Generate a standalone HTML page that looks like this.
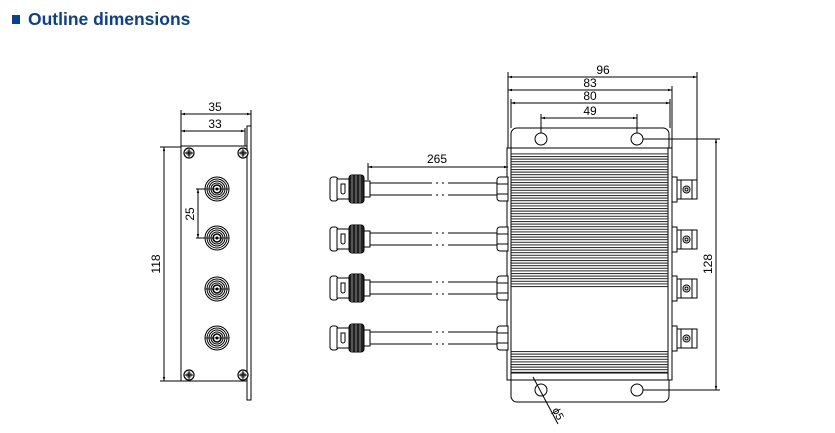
<!DOCTYPE html>
<html><head><meta charset="utf-8"><style>
html,body{margin:0;padding:0;background:#fff;}
svg{display:block;}
</style></head><body>
<svg width="835" height="433" viewBox="0 0 835 433" xmlns="http://www.w3.org/2000/svg" font-family="Liberation Sans, sans-serif">
<defs>
<pattern id="fin" x="0" y="0" width="10" height="2.6" patternUnits="userSpaceOnUse">
<rect x="0" y="0" width="10" height="1" fill="#222"/>
</pattern>
<marker id="a" viewBox="0 0 10 10" refX="10" refY="5" markerWidth="6" markerHeight="4" orient="auto-start-reverse"><path d="M0,2L10,5L0,8z" fill="#000"/></marker>
<g id="fbnc">
<circle r="12" fill="#fff" stroke="#000" stroke-width="1"/>
<circle r="10" fill="none" stroke="#000" stroke-width="1"/>
<circle r="8" fill="none" stroke="#000" stroke-width="1"/>
<circle r="6" fill="none" stroke="#000" stroke-width="1"/>
<circle r="4" fill="none" stroke="#000" stroke-width="1.5"/>
<circle r="1.5" fill="#000"/>
<line x1="-12" y1="0" x2="12" y2="0" stroke="#000" stroke-width="0.8"/>
</g>
<g id="screw">
<circle r="5" fill="#fff" stroke="#000" stroke-width="1.2"/>
<circle r="3" fill="#777"/>
<line x1="-4" y1="0" x2="4" y2="0" stroke="#000"/>
<line x1="0" y1="-4" x2="0" y2="4" stroke="#000"/>
</g>
<g id="lcon" stroke="#000" fill="#fff" stroke-width="1">
<rect x="330" y="-12" width="8" height="24" rx="3"/>
<rect x="337" y="-10" width="12" height="20"/>
<path d="M341,-5 h4 v8 a2,2 0 0 1 -4,0z" fill="none"/>
<rect x="349" y="-14" width="15" height="28" rx="3" fill="#222"/>
<line x1="352" y1="-14" x2="352" y2="14" stroke="#888"/>
<line x1="356" y1="-14" x2="356" y2="14" stroke="#888"/>
<line x1="360" y1="-14" x2="360" y2="14" stroke="#888"/>
<rect x="364" y="-8" width="6" height="16"/>
<line x1="370" y1="-6" x2="432" y2="-6"/>
<line x1="370" y1="6" x2="432" y2="6"/>
<line x1="436" y1="-6" x2="438" y2="-6"/>
<line x1="442" y1="-6" x2="444" y2="-6"/>
<line x1="436" y1="6" x2="438" y2="6"/>
<line x1="442" y1="6" x2="444" y2="6"/>
<line x1="448" y1="-6" x2="498" y2="-6"/>
<line x1="448" y1="6" x2="498" y2="6"/>
<path d="M508,-12 h-8 a3,3 0 0 0 -3,3 v18 a3,3 0 0 0 3,3 h8z"/>
<line x1="497" y1="-5" x2="508" y2="-5"/>
<line x1="497" y1="5" x2="508" y2="5"/>
</g>
<g id="rcon" stroke="#000" fill="#fff" stroke-width="1">
<rect x="672" y="-12" width="5" height="25"/>
<rect x="677" y="-9" width="20" height="19"/>
<line x1="681" y1="-9" x2="681" y2="10"/>
<line x1="692" y1="-9" x2="692" y2="10"/>
<circle cx="686.5" cy="0.5" r="3.5"/>
<circle cx="686.5" cy="0.5" r="1.5"/>
</g>
</defs>

<rect x="12" y="15" width="8" height="9" fill="#0b3f94"/>
<text x="28" y="25" font-size="17.5" font-weight="bold" fill="#0b3f94">Outline dimensions</text>

<g stroke="#000" stroke-width="1" fill="none">
<!-- left view -->
<rect x="181" y="146" width="66" height="235" fill="#fff"/>
<rect x="247" y="126" width="4" height="274"/>
<line x1="181" y1="110" x2="181" y2="146"/>
<line x1="251" y1="110" x2="251" y2="126"/>
<line x1="245" y1="128" x2="245" y2="146"/>
<line x1="181" y1="114" x2="251" y2="114" marker-start="url(#a)" marker-end="url(#a)"/>
<line x1="181" y1="131" x2="245" y2="131" marker-start="url(#a)" marker-end="url(#a)"/>
<line x1="160" y1="147" x2="181" y2="147"/>
<line x1="160" y1="381" x2="181" y2="381"/>
<line x1="164" y1="147" x2="164" y2="381" marker-start="url(#a)" marker-end="url(#a)"/>
<line x1="196" y1="189" x2="205" y2="189"/>
<line x1="196" y1="238" x2="205" y2="238"/>
<line x1="198" y1="189" x2="198" y2="238" marker-start="url(#a)" marker-end="url(#a)"/>
</g>
<use href="#screw" x="189" y="153"/><use href="#screw" x="243" y="153"/>
<use href="#screw" x="189" y="375"/><use href="#screw" x="243" y="375"/>
<use href="#fbnc" x="217" y="189"/><use href="#fbnc" x="217" y="238"/>
<use href="#fbnc" x="217" y="289"/><use href="#fbnc" x="217" y="338"/>
<g font-size="12" fill="#000">
<text x="215" y="111" text-anchor="middle">35</text>
<text x="215" y="128" text-anchor="middle">33</text>
<text transform="translate(160,264) rotate(-90)" text-anchor="middle">118</text>
<text transform="translate(194,214) rotate(-90)" text-anchor="middle">25</text>
</g>

<!-- right view -->
<g stroke="#000" stroke-width="1" fill="none">
<rect x="511" y="128" width="158" height="274" rx="6" fill="#fff"/>
<rect x="507" y="148" width="165" height="232" fill="#fff"/>
<line x1="511" y1="148" x2="511" y2="380"/>
<line x1="668" y1="148" x2="668" y2="380"/>
<line x1="511" y1="373" x2="668" y2="373"/>
</g>
<rect x="511" y="152" width="157" height="136" fill="url(#fin)"/>
<rect x="511" y="350" width="157" height="23" fill="url(#fin)"/>
<g stroke="#000" stroke-width="1" fill="#fff">
<circle cx="541" cy="139" r="6"/><circle cx="637" cy="139" r="6"/>
<circle cx="541" cy="390" r="6"/><circle cx="637" cy="390" r="6"/>
</g>
<use href="#lcon" x="0" y="189"/><use href="#lcon" x="0" y="239"/>
<use href="#lcon" x="0" y="288"/><use href="#lcon" x="0" y="338"/>
<use href="#rcon" x="0" y="189"/><use href="#rcon" x="0" y="239"/>
<use href="#rcon" x="0" y="288"/><use href="#rcon" x="0" y="338"/>

<g stroke="#000" stroke-width="1" fill="none">
<line x1="508" y1="72" x2="508" y2="148"/>
<line x1="697" y1="72" x2="697" y2="180"/>
<line x1="672" y1="86" x2="672" y2="148"/>
<line x1="670" y1="99" x2="670" y2="128"/>
<line x1="511" y1="99" x2="511" y2="128"/>
<line x1="541" y1="114" x2="541" y2="133"/>
<line x1="637" y1="114" x2="637" y2="133"/>
<line x1="508" y1="77" x2="697" y2="77" marker-start="url(#a)" marker-end="url(#a)"/>
<line x1="508" y1="90" x2="672" y2="90" marker-start="url(#a)" marker-end="url(#a)"/>
<line x1="511" y1="103" x2="670" y2="103" marker-start="url(#a)" marker-end="url(#a)"/>
<line x1="541" y1="118" x2="637" y2="118" marker-start="url(#a)" marker-end="url(#a)"/>
<line x1="643" y1="139" x2="720" y2="139"/>
<line x1="643" y1="390" x2="720" y2="390"/>
<line x1="716" y1="139" x2="716" y2="390" marker-start="url(#a)" marker-end="url(#a)"/>
<line x1="368" y1="163" x2="368" y2="180"/>
<line x1="368" y1="167" x2="508" y2="167" marker-start="url(#a)" marker-end="url(#a)"/>
<line x1="533" y1="377" x2="558" y2="424"/>
</g>
<g font-size="12" fill="#000">
<text x="603" y="74" text-anchor="middle">96</text>
<text x="590" y="87" text-anchor="middle">83</text>
<text x="590" y="100" text-anchor="middle">80</text>
<text x="590" y="115" text-anchor="middle">49</text>
<text x="437" y="163" text-anchor="middle">265</text>
<text transform="translate(712,264) rotate(-90)" text-anchor="middle">128</text>
<text transform="translate(552,410) rotate(62)" font-size="11">ϕ5</text>
</g>
</svg>
</body></html>
